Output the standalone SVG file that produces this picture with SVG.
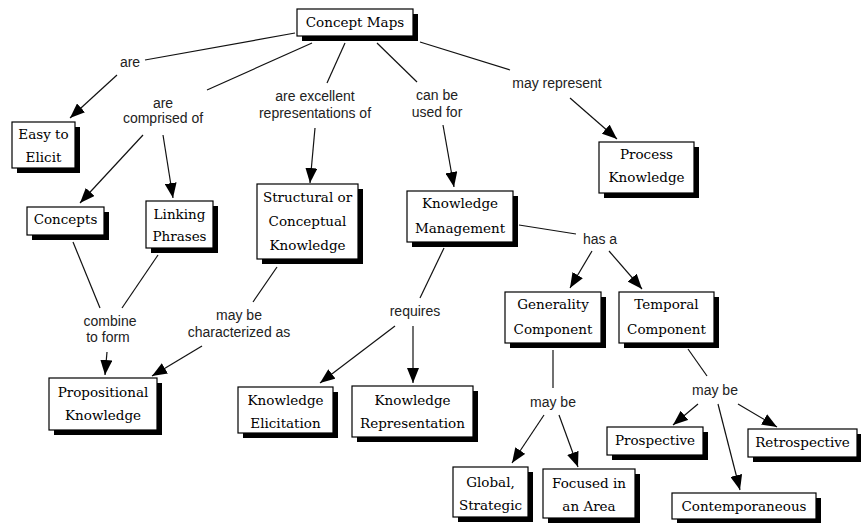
<svg xmlns="http://www.w3.org/2000/svg" width="861" height="523" viewBox="0 0 861 523">
  <style>
    .shadow { fill: #000; }
    .box { fill: #fff; stroke: #000; stroke-width: 1.2; }
    .concept { font-family: "DejaVu Serif", "Liberation Serif", serif; font-size: 13.5px; fill: #000; text-anchor: middle; }
    .phrase { font-family: "Liberation Sans", Arial, sans-serif; font-size: 14px; fill: #222; text-anchor: middle; }
    .edge { stroke: #111; stroke-width: 1.2; fill: none; }
    .arrow { marker-end: url(#head); }
  </style>
  <defs>
    <marker id="head" viewBox="0 0 15 12" refX="15" refY="6" markerWidth="15" markerHeight="12" markerUnits="userSpaceOnUse" orient="auto">
      <path d="M0,0 L15,6 L0,12 z" fill="#000"/>
    </marker>
  </defs>
  <rect width="861" height="523" fill="#fff"/>

  <!-- connectors: concept to phrase (plain), phrase to concept (arrow) -->
  <g id="connectors">
    <line class="edge" x1="295" y1="33" x2="145" y2="60"/>
    <line class="edge arrow" x1="117" y1="75" x2="70" y2="118"/>
    <line class="edge" x1="312" y1="43" x2="207" y2="90"/>
    <line class="edge arrow" x1="143" y1="135" x2="80" y2="203"/>
    <line class="edge arrow" x1="163" y1="135" x2="173" y2="198"/>
    <line class="edge" x1="345" y1="43" x2="327" y2="83"/>
    <line class="edge arrow" x1="315" y1="128" x2="310" y2="183"/>
    <line class="edge" x1="377" y1="43" x2="417" y2="82"/>
    <line class="edge arrow" x1="443" y1="125" x2="454" y2="187"/>
    <line class="edge" x1="420" y1="42" x2="510" y2="70"/>
    <line class="edge arrow" x1="570" y1="98" x2="617" y2="139"/>
    <line class="edge" x1="519" y1="225" x2="576" y2="234"/>
    <line class="edge arrow" x1="592" y1="251" x2="570" y2="288"/>
    <line class="edge arrow" x1="609" y1="251" x2="642" y2="289"/>
    <line class="edge" x1="73" y1="242" x2="100" y2="308"/>
    <line class="edge" x1="158" y1="255" x2="122" y2="308"/>
    <line class="edge arrow" x1="107" y1="352" x2="105" y2="375"/>
    <line class="edge" x1="277" y1="267" x2="253" y2="302"/>
    <line class="edge arrow" x1="202" y1="346" x2="152" y2="376"/>
    <line class="edge" x1="444" y1="248" x2="420" y2="298"/>
    <line class="edge arrow" x1="395" y1="326" x2="320" y2="383"/>
    <line class="edge arrow" x1="413" y1="326" x2="413" y2="383"/>
    <line class="edge" x1="553" y1="350" x2="553" y2="388"/>
    <line class="edge arrow" x1="544" y1="415" x2="512" y2="463"/>
    <line class="edge arrow" x1="559" y1="415" x2="578" y2="467"/>
    <line class="edge" x1="688" y1="349" x2="707" y2="376"/>
    <line class="edge arrow" x1="698" y1="404" x2="673" y2="425"/>
    <line class="edge arrow" x1="738" y1="404" x2="777" y2="427"/>
    <line class="edge arrow" x1="718" y1="404" x2="740" y2="490"/>
  </g>

  <!-- linking phrases -->
  <g id="phrase-are"><text class="phrase" x="130" y="67">are</text></g>
  <g id="phrase-comprised"><text class="phrase" x="163" y="108">are</text><text class="phrase" x="163" y="123">comprised of</text></g>
  <g id="phrase-representations"><text class="phrase" x="315" y="101">are excellent</text><text class="phrase" x="315" y="118">representations of</text></g>
  <g id="phrase-used-for"><text class="phrase" x="437" y="100">can be</text><text class="phrase" x="437" y="117">used for</text></g>
  <g id="phrase-may-represent"><text class="phrase" x="557" y="88">may represent</text></g>
  <g id="phrase-has-a"><text class="phrase" x="600" y="244">has a</text></g>
  <g id="phrase-combine"><text class="phrase" x="110" y="326">combine</text><text class="phrase" x="108" y="342">to form</text></g>
  <g id="phrase-characterized"><text class="phrase" x="239" y="320">may be</text><text class="phrase" x="239" y="337">characterized as</text></g>
  <g id="phrase-requires"><text class="phrase" x="415" y="316">requires</text></g>
  <g id="phrase-may-be-generality"><text class="phrase" x="553" y="407">may be</text></g>
  <g id="phrase-may-be-temporal"><text class="phrase" x="715" y="395">may be</text></g>

  <!-- concepts -->
  <g id="node-concept-maps">
    <rect class="shadow" x="302" y="14" width="116" height="27"/>
    <rect class="box" x="297" y="9" width="116" height="27"/>
    <text class="concept" x="355" y="27">Concept Maps</text>
  </g>
  <g id="node-easy-to-elicit">
    <rect class="shadow" x="17" y="127" width="63" height="46"/>
    <rect class="box" x="12" y="122" width="63" height="46"/>
    <text class="concept" x="43.5" y="139">Easy to</text>
    <text class="concept" x="43.5" y="162">Elicit</text>
  </g>
  <g id="node-concepts">
    <rect class="shadow" x="32" y="212" width="77" height="28"/>
    <rect class="box" x="27" y="207" width="77" height="28"/>
    <text class="concept" x="65.5" y="224">Concepts</text>
  </g>
  <g id="node-linking-phrases">
    <rect class="shadow" x="151" y="206" width="67" height="47"/>
    <rect class="box" x="146" y="201" width="67" height="47"/>
    <text class="concept" x="179.5" y="219">Linking</text>
    <text class="concept" x="179.5" y="241">Phrases</text>
  </g>
  <g id="node-structural">
    <rect class="shadow" x="262" y="189" width="101" height="75"/>
    <rect class="box" x="257" y="184" width="101" height="75"/>
    <text class="concept" x="307.5" y="202">Structural or</text>
    <text class="concept" x="307.5" y="226">Conceptual</text>
    <text class="concept" x="307.5" y="250">Knowledge</text>
  </g>
  <g id="node-knowledge-management">
    <rect class="shadow" x="412" y="196" width="106" height="51"/>
    <rect class="box" x="407" y="191" width="106" height="51"/>
    <text class="concept" x="460" y="208">Knowledge</text>
    <text class="concept" x="460" y="233">Management</text>
  </g>
  <g id="node-process-knowledge">
    <rect class="shadow" x="604" y="147" width="95" height="51"/>
    <rect class="box" x="599" y="142" width="95" height="51"/>
    <text class="concept" x="646.5" y="159">Process</text>
    <text class="concept" x="646.5" y="182">Knowledge</text>
  </g>
  <g id="node-generality">
    <rect class="shadow" x="510" y="297" width="96" height="51"/>
    <rect class="box" x="505" y="292" width="96" height="51"/>
    <text class="concept" x="553" y="309">Generality</text>
    <text class="concept" x="553" y="334">Component</text>
  </g>
  <g id="node-temporal">
    <rect class="shadow" x="624" y="297" width="95" height="51"/>
    <rect class="box" x="619" y="292" width="95" height="51"/>
    <text class="concept" x="666.5" y="309">Temporal</text>
    <text class="concept" x="666.5" y="334">Component</text>
  </g>
  <g id="node-propositional">
    <rect class="shadow" x="54" y="383" width="108" height="52"/>
    <rect class="box" x="49" y="378" width="108" height="52"/>
    <text class="concept" x="103" y="397">Propositional</text>
    <text class="concept" x="103" y="420">Knowledge</text>
  </g>
  <g id="node-elicitation">
    <rect class="shadow" x="243" y="392" width="95" height="46"/>
    <rect class="box" x="238" y="387" width="95" height="46"/>
    <text class="concept" x="285.5" y="405">Knowledge</text>
    <text class="concept" x="285.5" y="428">Elicitation</text>
  </g>
  <g id="node-representation">
    <rect class="shadow" x="357" y="391" width="121" height="51"/>
    <rect class="box" x="352" y="386" width="121" height="51"/>
    <text class="concept" x="412.5" y="405">Knowledge</text>
    <text class="concept" x="412.5" y="428">Representation</text>
  </g>
  <g id="node-global">
    <rect class="shadow" x="458" y="472" width="75" height="50"/>
    <rect class="box" x="453" y="467" width="75" height="50"/>
    <text class="concept" x="490.5" y="487">Global,</text>
    <text class="concept" x="490.5" y="510">Strategic</text>
  </g>
  <g id="node-focused">
    <rect class="shadow" x="548" y="474" width="92" height="49"/>
    <rect class="box" x="543" y="469" width="92" height="49"/>
    <text class="concept" x="589" y="488">Focused in</text>
    <text class="concept" x="589" y="511">an Area</text>
  </g>
  <g id="node-prospective">
    <rect class="shadow" x="612" y="432" width="96" height="28"/>
    <rect class="box" x="607" y="427" width="96" height="28"/>
    <text class="concept" x="655" y="445">Prospective</text>
  </g>
  <g id="node-retrospective">
    <rect class="shadow" x="753" y="434" width="108" height="28"/>
    <rect class="box" x="748" y="429" width="109" height="28"/>
    <text class="concept" x="802.5" y="447">Retrospective</text>
  </g>
  <g id="node-contemporaneous">
    <rect class="shadow" x="677" y="498" width="144" height="26"/>
    <rect class="box" x="672" y="493" width="144" height="26"/>
    <text class="concept" x="744" y="511">Contemporaneous</text>
  </g>
</svg>
